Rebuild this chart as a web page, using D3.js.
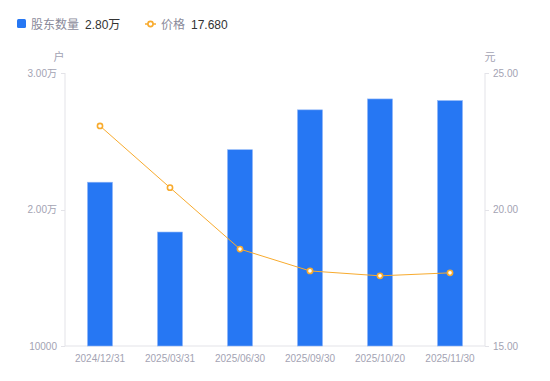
<!DOCTYPE html>
<html lang="zh">
  <head>
    <meta charset="utf-8" />
    <script src="https://d3js.org/d3.v7.min.js"></script>
    <style>
      body {
        margin: 0;
        background: #fff;
        font-family: "Liberation Sans", "Noto Sans CJK SC", sans-serif;
      }
    </style>
  </head>
  <body>
    <div id="chart"></div>
    <script>
      const dates = ["2024/12/31", "2025/03/31", "2025/06/30", "2025/09/30", "2025/10/20", "2025/11/30"];
      const holders = [22000, 18350, 24380, 27300, 28100, 27980];
      const prices = [23.06, 20.8, 18.55, 17.75, 17.57, 17.68];
      const leftTicks = [10000, 20000, 30000];
      const rightTicks = [15, 20, 25];

      const width = 550, height = 381;
      const m = { left: 65, right: 65, top: 73, bottom: 35 };
      const blue = "#2677f3", orange = "#f8ab2e";
      const axisColor = "#e3e3e8", tickText = "#a3a3b3";

      const svg = d3.select("#chart").append("svg")
        .attr("width", width).attr("height", height);

      const x = d3.scaleBand().domain(dates)
        .range([m.left, width - m.right]);
      const yL = d3.scaleLinear().domain([10000, 30000])
        .range([height - m.bottom, m.top]);
      const yR = d3.scaleLinear().domain([15, 25])
        .range([height - m.bottom, m.top]);

      const fmtL = (v) => v >= 20000 ? (v / 10000).toFixed(2) + "万" : String(v);

      // axes lines
      const g = svg.append("g");
      g.append("line").attr("x1", m.left).attr("x2", m.left)
        .attr("y1", m.top).attr("y2", height - m.bottom).attr("stroke", axisColor);
      g.append("line").attr("x1", width - m.right).attr("x2", width - m.right)
        .attr("y1", m.top).attr("y2", height - m.bottom).attr("stroke", axisColor);
      g.append("line").attr("x1", m.left).attr("x2", width - m.right)
        .attr("y1", height - m.bottom).attr("y2", height - m.bottom).attr("stroke", axisColor);

      // left ticks
      leftTicks.forEach((t) => {
        g.append("line").attr("x1", m.left - 4).attr("x2", m.left)
          .attr("y1", Math.round(yL(t)) + 0.5).attr("y2", Math.round(yL(t)) + 0.5)
          .attr("stroke", axisColor);
        g.append("text").attr("x", m.left - 8).attr("y", yL(t))
          .attr("dy", "0.35em").attr("text-anchor", "end")
          .attr("font-size", 10).attr("fill", tickText).text(fmtL(t));
      });
      rightTicks.forEach((t) => {
        g.append("line").attr("x1", width - m.right).attr("x2", width - m.right + 4)
          .attr("y1", Math.round(yR(t)) + 0.5).attr("y2", Math.round(yR(t)) + 0.5)
          .attr("stroke", axisColor);
        g.append("text").attr("x", width - m.right + 8).attr("y", yR(t))
          .attr("dy", "0.35em").attr("text-anchor", "start")
          .attr("font-size", 10).attr("fill", tickText).text(t.toFixed(2));
      });
      g.append("text").attr("x", 59).attr("y", 61).attr("text-anchor", "middle")
        .attr("font-size", 11).attr("fill", tickText).text("户");
      g.append("text").attr("x", 490).attr("y", 61).attr("text-anchor", "middle")
        .attr("font-size", 11).attr("fill", tickText).text("元");

      // x labels
      dates.forEach((d) => {
        g.append("text").attr("x", x(d) + x.bandwidth() / 2).attr("y", 362)
          .attr("text-anchor", "middle").attr("font-size", 10)
          .attr("fill", tickText).text(d);
      });

      // bars
      const bw = 25;
      svg.append("g").selectAll("rect").data(holders).join("rect")
        .attr("x", (d, i) => x(dates[i]) + x.bandwidth() / 2 - bw / 2)
        .attr("y", (d) => yL(d))
        .attr("width", bw)
        .attr("height", (d) => yL(10000) - yL(d))
        .attr("fill", blue)
        .attr("stroke", "#8fb6f8").attr("stroke-width", 0.6);

      // price line
      const line = d3.line()
        .x((d, i) => x(dates[i]) + x.bandwidth() / 2)
        .y((d) => yR(d));
      svg.append("path").datum(prices).attr("d", line)
        .attr("fill", "none").attr("stroke", orange).attr("stroke-width", 1);
      svg.append("g").selectAll("circle").data(prices).join("circle")
        .attr("cx", (d, i) => x(dates[i]) + x.bandwidth() / 2)
        .attr("cy", (d) => yR(d))
        .attr("r", 2.6)
        .attr("fill", "#fff").attr("stroke", orange).attr("stroke-width", 1.6);

      // legend
      const lg = svg.append("g").attr("font-size", 12);
      lg.append("rect").attr("x", 17).attr("y", 19).attr("width", 9).attr("height", 9)
        .attr("rx", 1.5).attr("fill", blue);
      lg.append("text").attr("x", 31).attr("y", 28.5).attr("fill", "#8a8a9a").text("股东数量");
      lg.append("text").attr("x", 85).attr("y", 28.5).attr("fill", "#333").text("2.80万");
      lg.append("line").attr("x1", 145).attr("x2", 156).attr("y1", 24).attr("y2", 24)
        .attr("stroke", orange).attr("stroke-width", 1.5);
      lg.append("circle").attr("cx", 150.5).attr("cy", 24).attr("r", 2.6)
        .attr("fill", "#fff").attr("stroke", orange).attr("stroke-width", 1.6);
      lg.append("text").attr("x", 161).attr("y", 28.5).attr("fill", "#8a8a9a").text("价格");
      lg.append("text").attr("x", 191).attr("y", 28.5).attr("fill", "#333").text("17.680");
    </script>
  </body>
</html>
